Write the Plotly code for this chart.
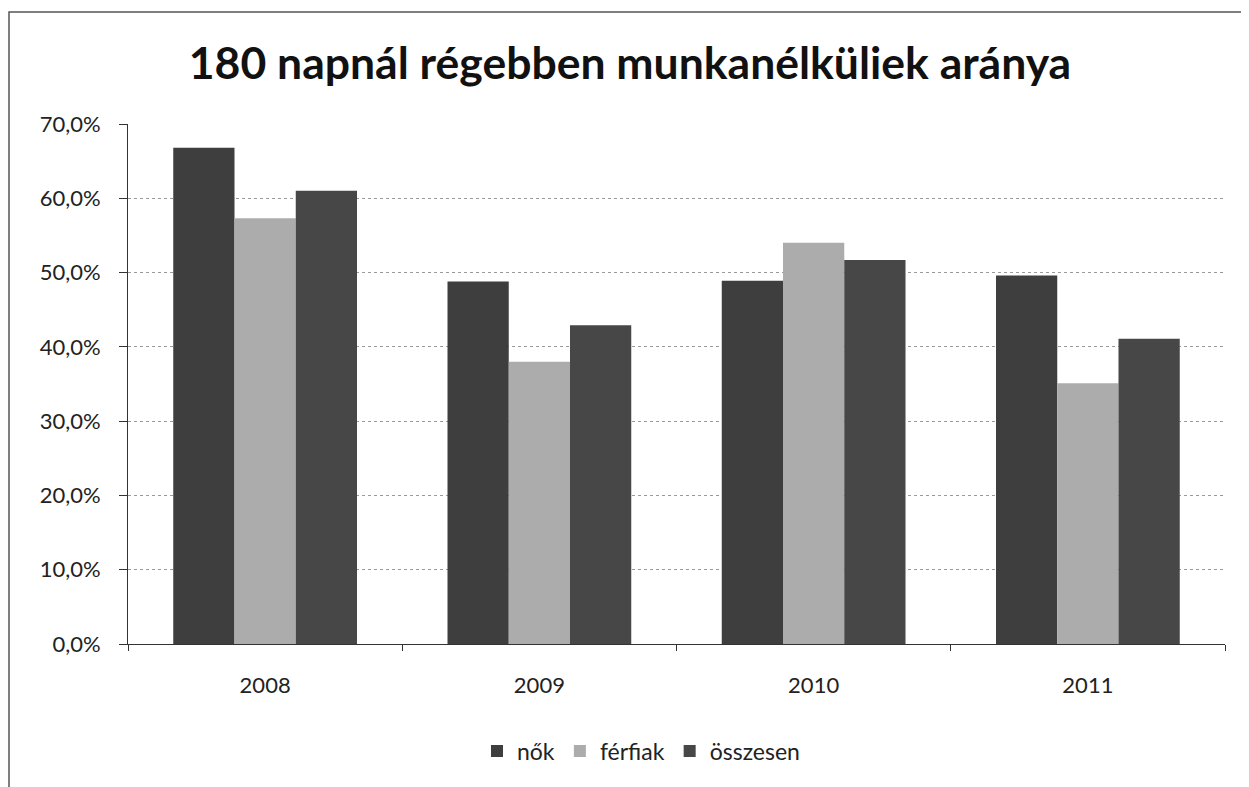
import plotly.graph_objects as go

years = ["2008", "2009", "2010", "2011"]
nok = [0.668, 0.488, 0.489, 0.496]
ferfiak = [0.573, 0.380, 0.540, 0.351]
osszesen = [0.610, 0.429, 0.517, 0.411]

series = [
    ("nők", nok, "#3e3e3e"),
    ("férfiak", ferfiak, "#acacac"),
    ("összesen", osszesen, "#474747"),
]

fig = go.Figure()
for name, vals, col in series:
    fig.add_trace(go.Bar(x=years, y=vals, name=name,
                         marker=dict(color=col, line=dict(width=0))))

W, H = 1249, 787
L, R, T, B = 120, 32, 116, 151
PW, PH = W - L - R, H - T - B
FONT = "Lato, Open Sans, sans-serif"
fig.update_layout(
    width=W, height=H,
    margin=dict(l=L, r=R, t=T, b=B),
    paper_bgcolor="white", plot_bgcolor="white",
    separators=", ",
    barmode="group", bargap=0.33, bargroupgap=0,
    font=dict(family=FONT, color="#222222"),
    title=dict(text="<b>180 napnál régebben munkanélküliek aránya</b>",
               x=622 / W, xanchor="center", y=1 - 55 / H, yanchor="middle",
               font=dict(size=44.5, color="#111111", family=FONT)),
    legend=dict(orientation="h", x=(633 - L) / PW, xanchor="center",
                y=(H - B - 743) / PH, yanchor="middle",
                font=dict(size=23, color="#222222"),
                traceorder="normal"),
    showlegend=True,
)
fig.update_yaxes(range=[0, 0.7], dtick=0.1, tickformat=".1%",
                 showgrid=True, gridcolor="#9a9a9a", griddash="dot", gridwidth=1,
                 showline=True, linecolor="#333333", linewidth=1,
                 ticks="outside", ticklen=8, tickcolor="#333333",
                 ticklabelstandoff=14,
                 tickfont=dict(size=22, color="#222222"), zeroline=False)
fig.update_xaxes(showline=True, linecolor="#333333", linewidth=1,
                 ticks="outside", tickson="boundaries", ticklen=6, tickcolor="#333333",
                 ticklabelstandoff=22,
                 tickfont=dict(size=22, color="#222222"))

# outer chart border
fig.add_shape(type="rect", xref="paper", yref="paper",
              x0=(1 - L) / PW, x1=(W + 5 - L) / PW,
              y0=(H - B - (H + 5)) / PH, y1=(H - B - 4) / PH,
              line=dict(color="#555555", width=1.5), layer="below")

fig.write_html("out.html")
